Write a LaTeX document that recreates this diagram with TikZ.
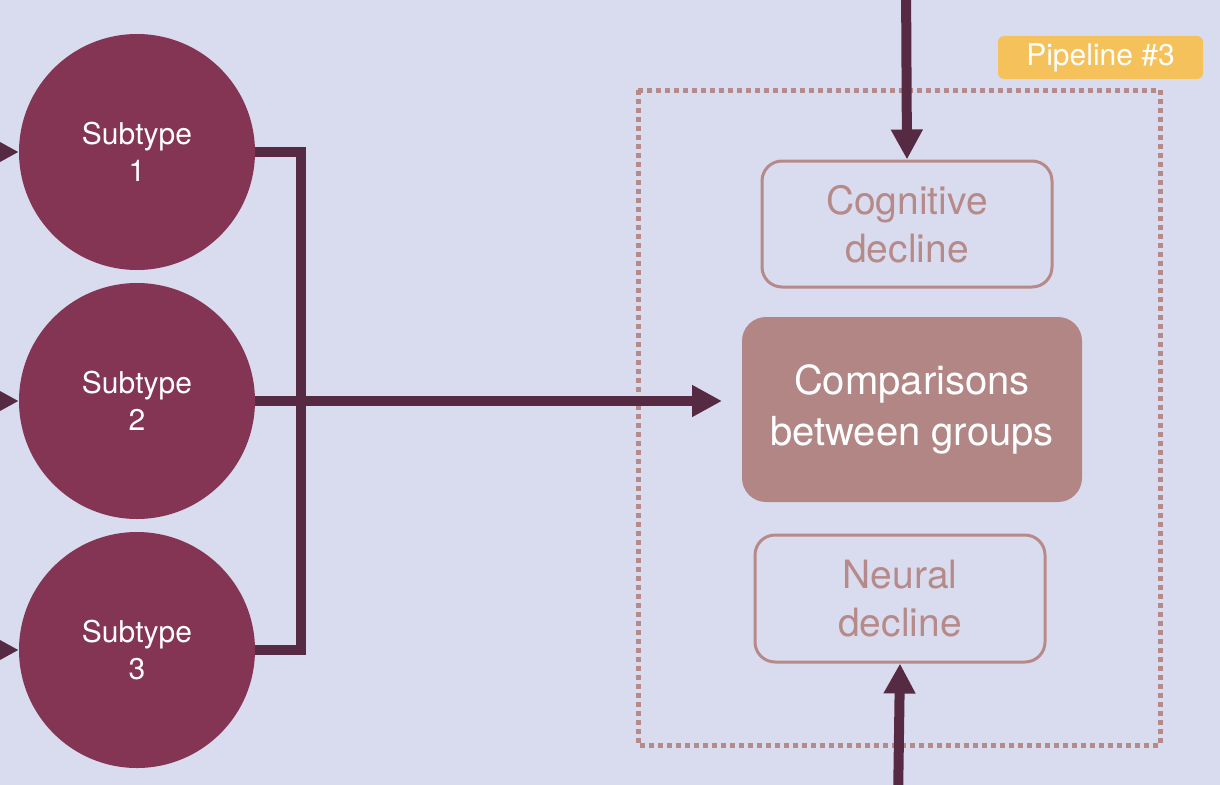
\documentclass[tikz,border=0pt]{standalone}
\usepackage{fontspec}
\setmainfont{TeX Gyre Heros}
\usetikzlibrary{arrows.meta}
\definecolor{bgc}{HTML}{D9DCEE}
\definecolor{circc}{HTML}{843553}
\definecolor{linec}{HTML}{562A42}
\definecolor{mutec}{HTML}{B78A8A}
\definecolor{compc}{HTML}{B38686}
\definecolor{pipec}{HTML}{F5C15A}
\tikzset{
  subtype/.style={circle, fill=circc, draw=none, minimum size=236pt, inner sep=0pt,
    text=white, align=center, font=\fontsize{30}{37}\selectfont},
  conn/.style={draw=linec, line width=10pt, line join=miter},
  arr/.style={conn, -{Triangle[length=30pt 0, width=30pt 0]}},
  outlinebox/.style={draw=mutec, line width=3pt, rounded corners=20pt, fill=none,
    text=mutec, align=center, font=\fontsize{39}{48}\selectfont,
    minimum width=290pt, minimum height=126pt, inner sep=0pt},
  compbox/.style={fill=compc, draw=none, rounded corners=24pt, text=white, align=center,
    font=\fontsize{40}{51}\selectfont, minimum width=340pt, minimum height=185pt, inner sep=0pt},
  pipelabel/.style={fill=pipec, draw=none, rounded corners=6pt, text=white,
    font=\fontsize{30}{36}\selectfont, minimum width=205pt, minimum height=43pt, inner sep=0pt},
  frame/.style={draw=mutec, line width=5pt, dash pattern=on 5pt off 4pt}
}
\begin{document}
\begin{tikzpicture}[x=1pt,y=-1pt]
\useasboundingbox (0,0) rectangle (1220,784);
\fill[bgc] (-5,-5) rectangle (1225,789);

% dotted frame
\draw[frame] (638,90) rectangle (1160,745);

% coordinates
\coordinate (l1) at (-40,152);
\coordinate (l2) at (-40,401);
\coordinate (l3) at (-40,650);
\coordinate (bt) at (301,152);
\coordinate (bb) at (301,650);
\coordinate (mid) at (722,401);
\coordinate (topin) at (906,-20);
\coordinate (botin) at (898,804);

% nodes
\node[subtype] (c1) at (137,152) {Subtype\\1};
\node[subtype] (c2) at (137,401) {Subtype\\2};
\node[subtype] (c3) at (137,650) {Subtype\\3};

\node[outlinebox] (cog) at (907,224) {Cognitive\\decline};
\node[compbox] (comp) at (912,409.5) {Comparisons\\between groups};
\node[outlinebox, minimum height=127pt] (neur) at (900,598.5) {Neural\\decline};
\node[pipelabel] (pipe) at (1100.5,57.5) {Pipeline \#3};

% connectors
\draw[conn] (c1.east) -- (bt) -- (bb) -- (c3.east);
\draw[arr] (c2.east) -- (mid);
\draw[arr] (l1) -- (c1.west);
\draw[arr] (l2) -- (c2.west);
\draw[arr] (l3) -- (c3.west);
\draw[arr] (topin) -- (cog.north);
\draw[arr] (botin) -- (neur.south);
\end{tikzpicture}
\end{document}
